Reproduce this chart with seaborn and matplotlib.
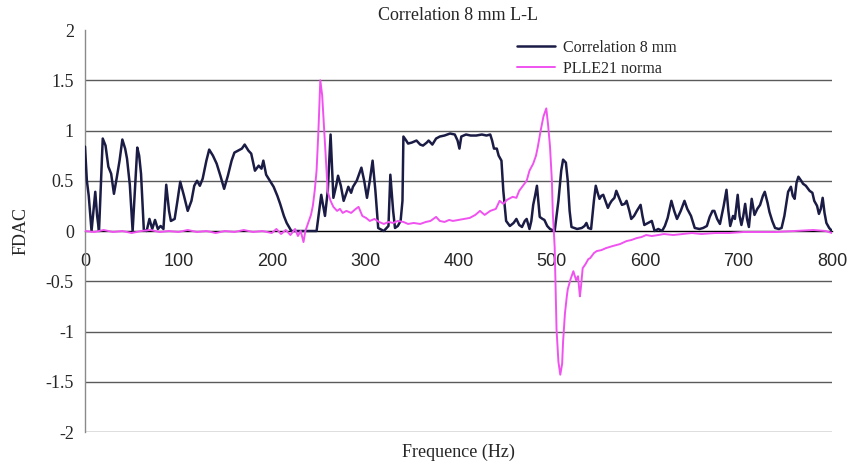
import matplotlib
matplotlib.use("Agg")
import matplotlib.pyplot as plt
import seaborn as sns
import pandas as pd

# Correlation 8 mm (FDAC vs frequency)
corr_freq = [0, 2, 4, 7, 9, 11, 13, 15, 19, 22, 25, 28, 31, 34, 37, 40, 43, 45, 48, 51,
             54, 56, 58, 60, 63, 66, 69, 72, 75, 78, 81, 84, 87, 90, 92, 96, 99, 102, 106, 110,
             114, 117, 120, 123, 126, 130, 133, 137, 141, 145, 149, 153, 157, 160, 164, 168, 171, 175, 178, 182,
             186, 189, 191, 194, 198, 202, 206, 209, 213, 216, 221, 230, 240, 248, 253, 257, 260, 263, 266, 269,
             271, 274, 277, 280, 282, 285, 287, 291, 296, 299, 302, 305, 308, 311, 314, 320, 325, 327, 330, 332,
             335, 338, 340, 341, 344, 346, 350, 355, 359, 362, 366, 368, 372, 376, 380, 385, 391, 396, 399, 401,
             403, 408, 413, 419, 425, 430, 434, 436, 438, 441, 443, 446, 448, 451, 455, 459, 462, 465, 468, 471,
             473, 476, 478, 480, 482, 484, 487, 490, 492, 495, 498, 503, 507, 510, 512, 515, 517, 519, 521, 527,
             532, 535, 537, 539, 542, 545, 547, 549, 551, 553, 555, 558, 560, 562, 564, 567, 569, 572, 575, 578,
             580, 583, 585, 588, 591, 595, 597, 599, 603, 607, 610, 614, 618, 621, 624, 628, 631, 634, 638, 642,
             645, 649, 653, 658, 662, 666, 669, 672, 674, 677, 680, 684, 687, 689, 691, 694, 696, 699, 701, 703,
             705, 707, 709, 711, 714, 717, 720, 723, 726, 728, 731, 733, 736, 739, 743, 746, 749, 753, 756, 758,
             760, 762, 764, 767, 769, 772, 776, 779, 781, 784, 786, 788, 790, 792, 794, 797, 800]
corr_fdac = [0.84, 0.50, 0.35, 0.0, 0.2, 0.39, 0.15, 0.0, 0.92, 0.85, 0.64, 0.57, 0.37, 0.53, 0.7, 0.91, 0.82, 0.72, 0.46, 0.0,
             0.5, 0.83, 0.75, 0.57, 0.01, 0.0, 0.12, 0.02, 0.11, 0.02, 0.05, 0.02, 0.46, 0.2, 0.1, 0.12, 0.3, 0.49, 0.35, 0.2,
             0.3, 0.45, 0.5, 0.45, 0.52, 0.7, 0.81, 0.75, 0.67, 0.55, 0.42, 0.55, 0.7, 0.78, 0.8, 0.82, 0.86, 0.8, 0.77, 0.60,
             0.65, 0.62, 0.7, 0.56, 0.5, 0.44, 0.35, 0.27, 0.15, 0.08, 0.0, 0.0, 0.0, 0.0, 0.36, 0.15, 0.4, 0.96, 0.33, 0.45,
             0.55, 0.45, 0.3, 0.38, 0.44, 0.38, 0.44, 0.5, 0.63, 0.5, 0.33, 0.5, 0.7, 0.4, 0.03, 0.0, 0.05, 0.56, 0.2, 0.03,
             0.05, 0.1, 0.3, 0.94, 0.9, 0.87, 0.88, 0.9, 0.86, 0.85, 0.88, 0.9, 0.86, 0.92, 0.94, 0.95, 0.97, 0.96, 0.9, 0.82,
             0.94, 0.96, 0.95, 0.95, 0.96, 0.95, 0.96, 0.9, 0.82, 0.82, 0.75, 0.7, 0.4, 0.1, 0.05, 0.08, 0.12, 0.06, 0.04, 0.1,
             0.12, 0.02, 0.1, 0.26, 0.35, 0.45, 0.14, 0.12, 0.11, 0.05, 0.02, 0.0, 0.3, 0.6, 0.71, 0.68, 0.5, 0.2, 0.04, 0.02,
             0.03, 0.05, 0.08, 0.03, 0.02, 0.3, 0.45, 0.38, 0.32, 0.35, 0.36, 0.28, 0.23, 0.27, 0.3, 0.33, 0.4, 0.33, 0.26, 0.27,
             0.3, 0.2, 0.12, 0.15, 0.2, 0.26, 0.15, 0.06, 0.08, 0.1, 0.0, 0.02, 0.0, 0.05, 0.13, 0.3, 0.2, 0.12, 0.2, 0.3,
             0.22, 0.15, 0.03, 0.02, 0.03, 0.05, 0.14, 0.2, 0.2, 0.12, 0.07, 0.25, 0.41, 0.2, 0.05, 0.15, 0.12, 0.36, 0.15, 0.06,
             0.15, 0.27, 0.12, 0.04, 0.32, 0.16, 0.22, 0.26, 0.35, 0.39, 0.28, 0.19, 0.1, 0.03, 0.02, 0.03, 0.15, 0.39, 0.44, 0.35,
             0.32, 0.48, 0.54, 0.5, 0.47, 0.45, 0.4, 0.38, 0.3, 0.25, 0.17, 0.22, 0.33, 0.18, 0.08, 0.03, 0.0]

# PLLE21 norma
plle_freq = [0, 10, 20, 30, 40, 50, 60, 70, 80, 90, 100, 110, 120, 130, 140, 150, 160, 170, 180, 190,
             200, 205, 210, 215, 220, 225, 228, 231, 234, 236, 239, 242, 244, 246, 248, 250, 252, 254, 257, 260,
             263, 266, 270, 273, 276, 280, 285, 290, 293, 297, 301, 305, 310, 315, 320, 325, 330, 335, 341, 346,
             352, 359, 365, 370, 376, 380, 385, 390, 394, 400, 406, 412, 418, 423, 428, 434, 440, 444, 448, 452,
             458, 462, 465, 469, 473, 476, 480, 483, 485, 488, 491, 494, 496, 498, 500, 501, 503, 505, 507, 509,
             511, 512, 514, 516, 517, 520, 523, 526, 528, 530, 531, 533, 536, 539, 541, 545, 548, 553, 558, 565,
             573, 580, 585, 591, 596, 601, 607, 614, 620, 630, 640, 650, 660, 675, 690, 705, 722, 740, 760, 780,
             793, 800]
plle_fdac = [0.0, -0.01, 0.01, -0.01, 0.0, -0.02, 0.0, 0.01, -0.01, 0.0, -0.01, 0.01, -0.01, 0.0, -0.02, 0.0, -0.01, 0.01, -0.01, 0.0,
             -0.02, 0.02, -0.03, 0.01, -0.04, 0.02, -0.05, 0.0, -0.11, 0.0, 0.08, 0.16, 0.25, 0.4, 0.6, 1.0, 1.5, 1.35, 0.87, 0.39,
             0.3, 0.24, 0.2, 0.22, 0.18, 0.2, 0.18, 0.22, 0.24, 0.15, 0.13, 0.1, 0.12, 0.09, 0.07, 0.09, 0.08, 0.1, 0.09, 0.07,
             0.08, 0.07, 0.09, 0.1, 0.14, 0.1, 0.09, 0.11, 0.1, 0.11, 0.12, 0.13, 0.16, 0.2, 0.16, 0.2, 0.22, 0.3, 0.27, 0.31,
             0.34, 0.33, 0.4, 0.45, 0.5, 0.6, 0.67, 0.75, 0.84, 1.0, 1.14, 1.22, 1.05, 0.84, 0.5, 0.18, -0.16, -0.98, -1.3, -1.43,
             -1.32, -1.1, -0.82, -0.65, -0.58, -0.48, -0.4, -0.49, -0.45, -0.65, -0.57, -0.37, -0.33, -0.28, -0.27, -0.22, -0.2, -0.19, -0.17, -0.15,
             -0.13, -0.1, -0.09, -0.07, -0.06, -0.04, -0.05, -0.04, -0.03, -0.04, -0.03, -0.02, -0.03, -0.02, -0.02, -0.01, -0.01, -0.01, 0.0, 0.01,
             0.0, -0.02]

x_ticks = [0, 100, 200, 300, 400, 500, 600, 700, 800]
y_ticks = [-2, -1.5, -1, -0.5, 0, 0.5, 1, 1.5, 2]
y_tick_labels = ["-2", "-1.5", "-1", "-0.5", "0", "0.5", "1", "1.5", "2"]

sns.set_style("white")
plt.rcParams["font.family"] = ["Liberation Serif", "DejaVu Serif"]

corr_df = pd.DataFrame({"Frequence": corr_freq, "FDAC": corr_fdac})
plle_df = pd.DataFrame({"Frequence": plle_freq, "FDAC": plle_fdac})

fig = plt.figure(figsize=(8.51, 4.65), dpi=100)
ax = fig.add_axes([85 / 851, 1 - 432 / 465, 747 / 851, 402 / 465])

sns.lineplot(data=corr_df, x="Frequence", y="FDAC", ax=ax, color="#1b1c45",
             linewidth=1.8, label="Correlation 8 mm", sort=False, zorder=3)
sns.lineplot(data=plle_df, x="Frequence", y="FDAC", ax=ax, color="#f052f0",
             linewidth=1.4, label="PLLE21 norma", sort=False, zorder=4)

ax.set_xlim(0, 800)
ax.set_ylim(-2, 2)

# horizontal category axis crossing at zero
ax.spines["top"].set_visible(False)
ax.spines["right"].set_visible(False)
ax.spines["bottom"].set_position(("data", 0))
ax.spines["bottom"].set_color("black")
ax.spines["bottom"].set_linewidth(1.0)
ax.spines["bottom"].set_zorder(2)
ax.spines["left"].set_color("#8a8a8a")
ax.spines["left"].set_linewidth(1.0)

ax.set_xticks(x_ticks)
ax.set_xticklabels([str(v) for v in x_ticks], family="Liberation Sans", fontsize=13)
ax.tick_params(axis="x", direction="out", length=3, width=0.8, color="black", pad=13)

ax.set_yticks(y_ticks)
ax.set_yticklabels(y_tick_labels, fontsize=13)
ax.tick_params(axis="y", direction="out", length=5, width=0.8, color="#8a8a8a", pad=3)

ax.yaxis.grid(True, color="#5a5a5a", linewidth=1.0)
ax.xaxis.grid(False)
ax.set_axisbelow(True)
ax.yaxis.get_gridlines()[-1].set_visible(False)
ax.yaxis.get_gridlines()[4].set_visible(False)

ax.set_xlabel("Frequence (Hz)", fontsize=13)
ax.xaxis.set_label_coords(0.5, -0.05)
ax.xaxis.label.set_va("center")
ax.set_ylabel("FDAC", fontsize=13)
ax.yaxis.set_label_coords(-0.0857, 0.5)
ax.yaxis.label.set_va("center")

ax.set_title("Correlation 8 mm L-L", fontsize=13, pad=7)

leg = ax.legend(loc="upper left", bbox_to_anchor=(517 / 851, 1 - 40 / 465),
                bbox_transform=fig.transFigure, frameon=False, fontsize=11.5,
                handlelength=2.4, handletextpad=0.45, labelspacing=0.3, borderpad=0,
                borderaxespad=0)

fig.savefig("out.png", dpi=100)
